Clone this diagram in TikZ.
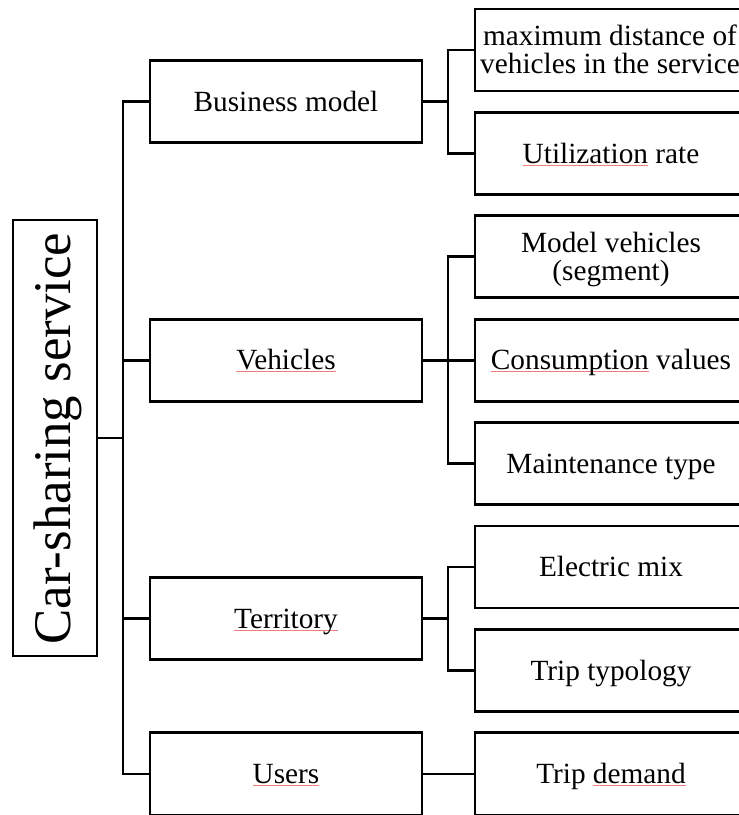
\documentclass[tikz,border=0pt]{standalone}
\usepackage{fontspec}
\setmainfont{Liberation Serif}
\definecolor{spell}{RGB}{240,125,125}
\newcommand\spellu[1]{\setbox0\hbox{#1}\rlap{\textcolor{spell}{\rule[-2.2pt]{\wd0}{0.8pt}}}\box0\relax}
\begin{document}
\begin{tikzpicture}[x=1pt,y=-1pt,
  box/.style={draw, line width=2.7pt, minimum width=272pt, minimum height=82pt, inner sep=0pt,
              text height=19.4pt, text depth=0pt, font=\fontsize{29.3}{27.7}\selectfont},
  lbl/.style={inner sep=0pt, anchor=base, font=\fontsize{29.3}{27.7}\selectfont},
  conn/.style={line width=2.7pt}]
\clip (0,0) rectangle (739,815);
% root
\node[draw, line width=2.7pt, minimum width=84pt, minimum height=436pt, inner sep=0pt] (root) at (55,438) {};
\node[rotate=90, inner sep=0pt, text height=35pt, text depth=0pt,
      font=\fontsize{52.9}{60}\selectfont] (roottext) at (53,438.5) {Car-sharing service};
% level 1
\node[box] (bm) at (286,101.7) {Business model};
\node[box] (veh) at (286,360.2) {\spellu{Vehicles}};
\node[box] (ter) at (286,618.7) {\spellu{Territory}};
\node[box, minimum height=83pt] (usr) at (286,774) {\spellu{Users}};
% level 2
\node[box] (c1) at (611,50) {};
\node[lbl] (c1a) at (610,45.8) {maximum distance of};
\node[lbl] (c1b) at (610,73.5) {vehicles in the service};
\node[box] (c2) at (611,153.4) {\spellu{Utilization} rate};
\node[box] (c3) at (611,256.8) {};
\node[lbl] (c3a) at (611,252.6) {Model vehicles};
\node[lbl] (c3b) at (611,280.3) {(segment)};
\node[box] (c4) at (611,360.2) {\spellu{Consumption} values};
\node[box] (c5) at (611,463.6) {Maintenance type};
\node[box] (c6) at (611,567) {Electric mix};
\node[box] (c7) at (611,670.4) {Trip typology};
\node[box, minimum height=83pt] (c8) at (611,774) {Trip \spellu{demand}};
% connectors
\coordinate (tk) at (123,0);
\coordinate (bx) at (448,0);
\draw[conn] (bm.west) -- (bm.west -| tk) -- (usr.west -| tk) -- (usr.west);
\draw[conn] (veh.west) -- (veh.west -| tk);
\draw[conn] (ter.west) -- (ter.west -| tk);
\draw[conn] (root.east) -- (root.east -| tk);
\draw[conn] (c1.west) -- (c1.west -| bx) -- (c2.west -| bx) -- (c2.west);
\draw[conn] (bm.east) -- (bm.east -| bx);
\draw[conn] (c3.west) -- (c3.west -| bx) -- (c5.west -| bx) -- (c5.west);
\draw[conn] (veh.east) -- (c4.west);
\draw[conn] (c6.west) -- (c6.west -| bx) -- (c7.west -| bx) -- (c7.west);
\draw[conn] (ter.east) -- (ter.east -| bx);
\draw[conn] (usr.east) -- (c8.west);
\end{tikzpicture}
\end{document}
